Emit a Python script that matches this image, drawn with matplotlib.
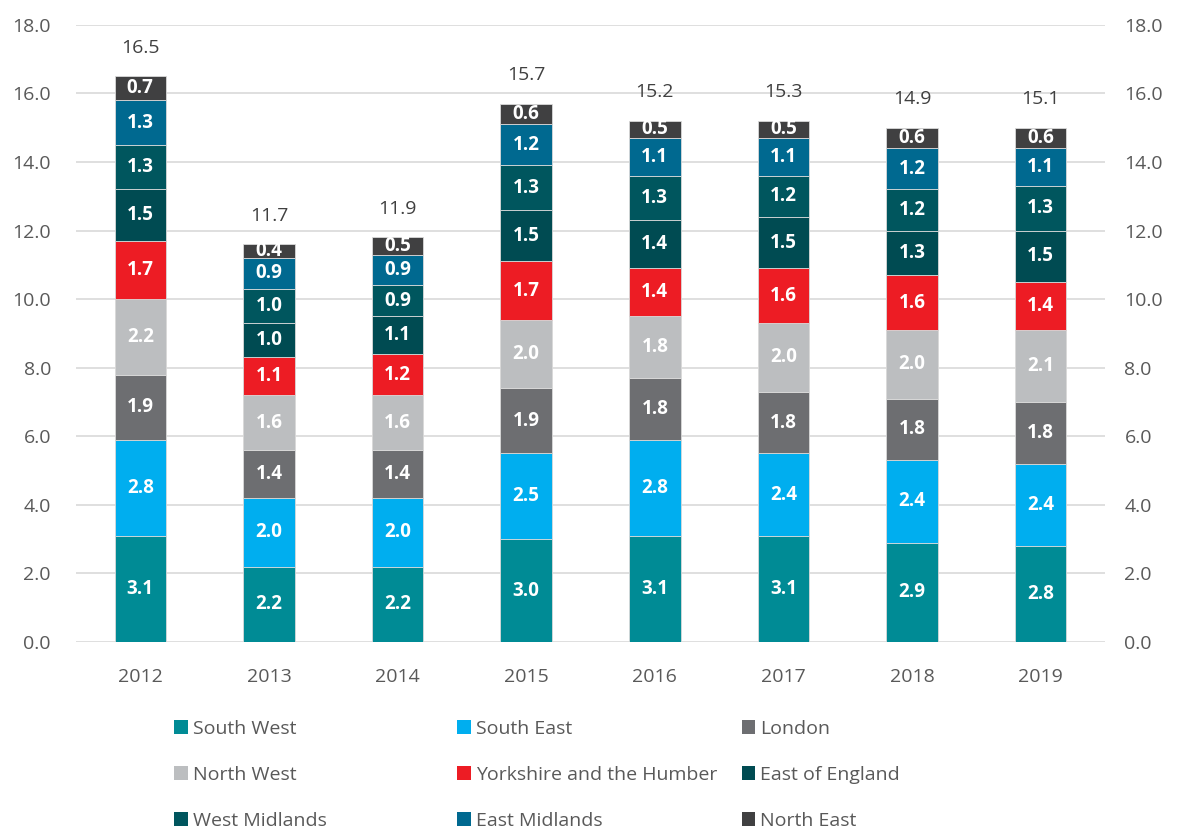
import matplotlib
matplotlib.use('Agg')
import matplotlib.pyplot as plt
from matplotlib.patches import Patch
import numpy as np

years = ['2012', '2013', '2014', '2015', '2016', '2017', '2018', '2019']
regions = ['South West', 'South East', 'London', 'North West', 'Yorkshire and the Humber',
           'East of England', 'West Midlands', 'East Midlands', 'North East']
colors = ['#008B95', '#00AEEF', '#6D6E71', '#BCBEC0', '#ED1C24',
          '#004B52', '#00565E', '#006990', '#404041']

south_west = [3.1, 2.2, 2.2, 3.0, 3.1, 3.1, 2.9, 2.8]
south_east = [2.8, 2.0, 2.0, 2.5, 2.8, 2.4, 2.4, 2.4]
london = [1.9, 1.4, 1.4, 1.9, 1.8, 1.8, 1.8, 1.8]
north_west = [2.2, 1.6, 1.6, 2.0, 1.8, 2.0, 2.0, 2.1]
yorkshire = [1.7, 1.1, 1.2, 1.7, 1.4, 1.6, 1.6, 1.4]
east_of_england = [1.5, 1.0, 1.1, 1.5, 1.4, 1.5, 1.3, 1.5]
west_midlands = [1.3, 1.0, 0.9, 1.3, 1.3, 1.2, 1.2, 1.3]
east_midlands = [1.3, 0.9, 0.9, 1.2, 1.1, 1.1, 1.2, 1.1]
north_east = [0.7, 0.4, 0.5, 0.6, 0.5, 0.5, 0.6, 0.6]
totals = [16.5, 11.7, 11.9, 15.7, 15.2, 15.3, 14.9, 15.1]

series = [south_west, south_east, london, north_west, yorkshire,
          east_of_england, west_midlands, east_midlands, north_east]

plt.rcParams['font.family'] = ['Open Sans', 'DejaVu Sans']
text_col = '#595959'

fig = plt.figure(figsize=(11.78, 8.3), dpi=100)
ax = fig.add_axes([0.0645, 0.2265, 0.8735, 0.7435])

x = np.arange(len(years))
bottom = np.zeros(len(years))
for vals, col in zip(series, colors):
    vals = np.array(vals)
    ax.bar(x, vals, 0.4, bottom=bottom, color=col, edgecolor='#D9D9D9', linewidth=0.6, zorder=3)
    for xi, b, v in zip(x, bottom, vals):
        ax.text(xi, b + v / 2, '{:.1f}'.format(v), ha='center', va='center',
                color='white', fontsize=13.5, fontweight='bold', zorder=4)
    bottom += vals

for xi, top, t in zip(x, bottom, totals):
    ax.annotate('{:.1f}'.format(t), (xi, top), xytext=(0, 14), textcoords='offset points',
                ha='center', va='bottom', fontsize=14, color='#404040')

ax.set_xlim(-0.5, len(years) - 0.5)
ax.set_ylim(0, 18)
ax.set_yticks(np.arange(0, 18.1, 2))
ax.set_yticklabels(['{:.1f}'.format(v) for v in np.arange(0, 18.1, 2)])
ax.set_xticks(x)
ax.set_xticklabels(years)
ax.grid(axis='y', color='#D9D9D9', linewidth=1.2, zorder=0)
for s in ax.spines.values():
    s.set_visible(False)
ax.tick_params(axis='both', length=0, labelsize=14, labelcolor=text_col)
ax.tick_params(axis='y', pad=18)
ax.tick_params(axis='x', pad=19)

ax2 = ax.twinx()
ax2.set_ylim(0, 18)
ax2.set_yticks(np.arange(0, 18.1, 2))
ax2.set_yticklabels(['{:.1f}'.format(v) for v in np.arange(0, 18.1, 2)])
for s in ax2.spines.values():
    s.set_visible(False)
ax2.tick_params(axis='y', length=0, labelsize=14, labelcolor=text_col, pad=14)

# legend in three fixed-width columns, filled row by row
col_x = [0.1395, 0.380, 0.6215]
for c in range(3):
    handles = [Patch(facecolor=colors[r * 3 + c], edgecolor='none', label=regions[r * 3 + c])
               for r in range(3)]
    fig.legend(handles=handles, loc='upper left', bbox_to_anchor=(col_x[c], 0.1446),
               frameon=False, fontsize=14, handlelength=0.7, handleheight=0.7,
               handletextpad=0.25, labelspacing=1.45, labelcolor=text_col, borderpad=0)

fig.savefig('out.png', dpi=100)
